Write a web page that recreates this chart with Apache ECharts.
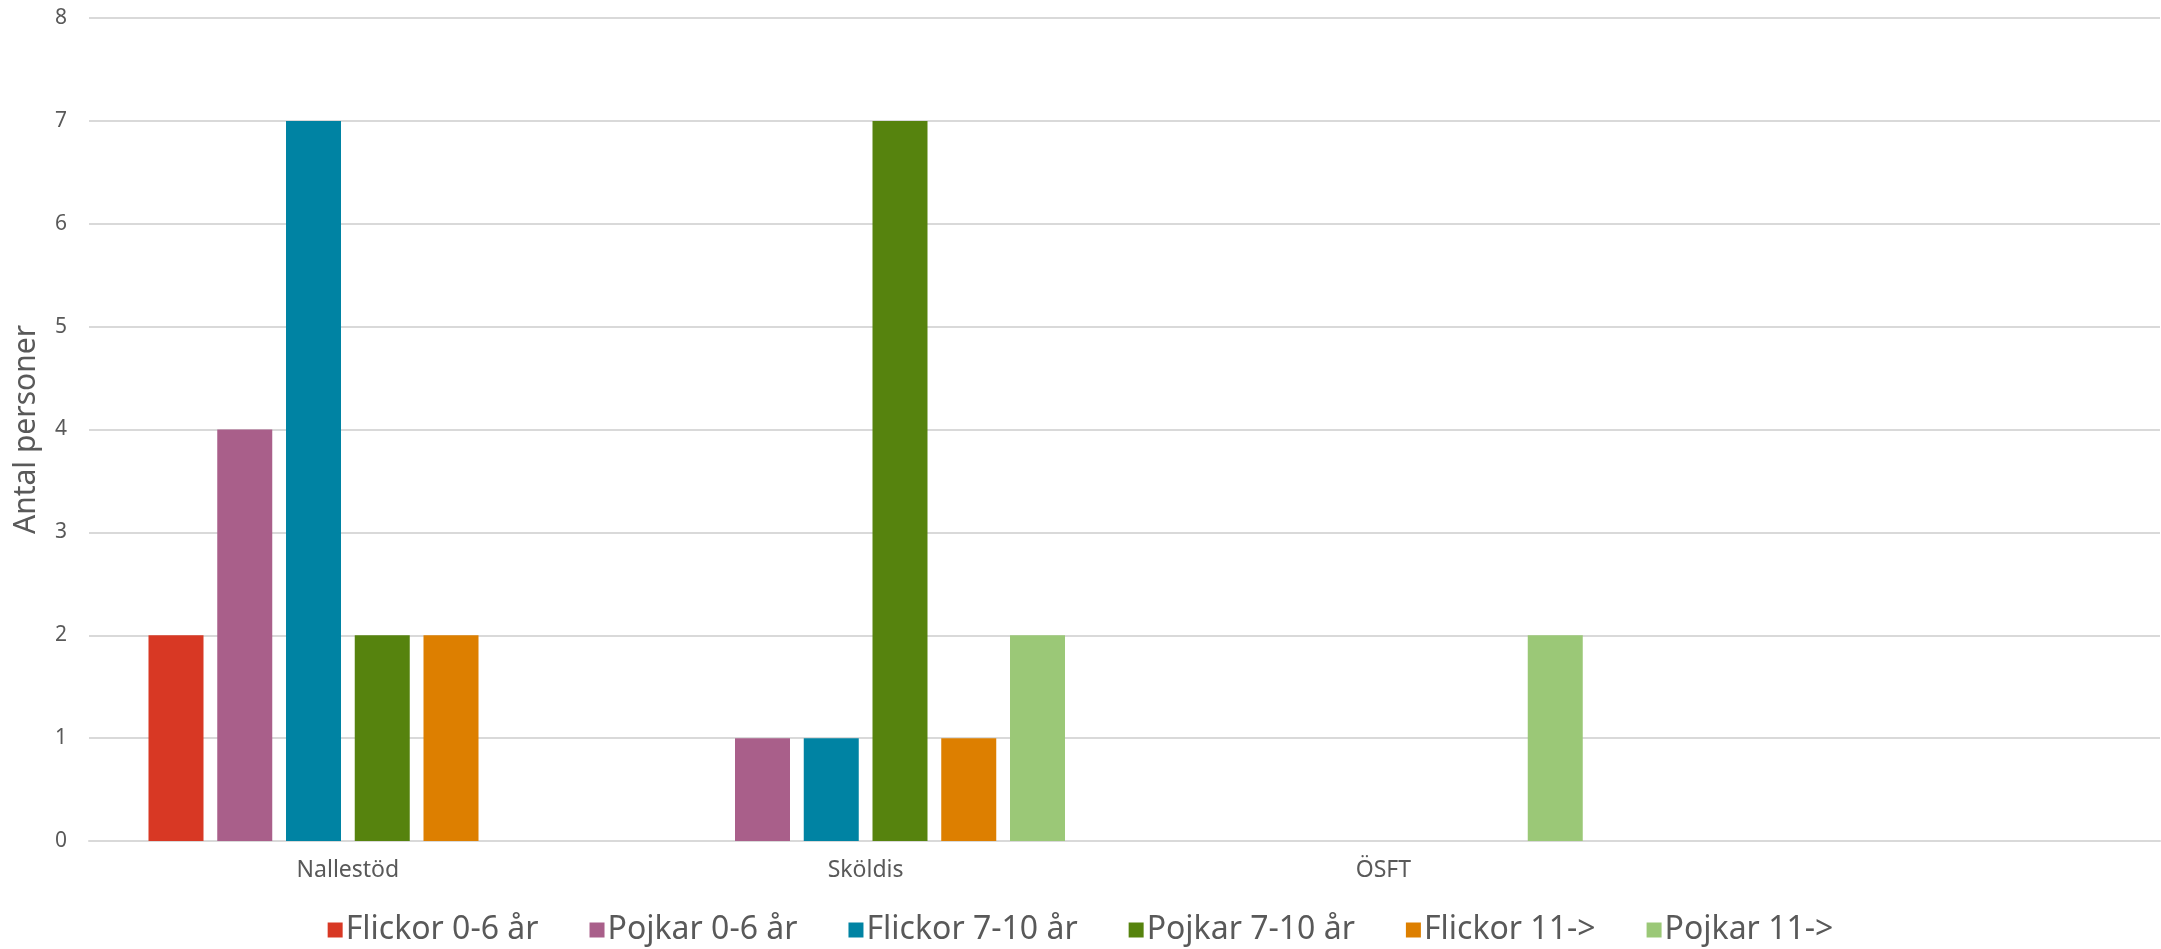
<!DOCTYPE html>
<html><head><meta charset="utf-8">
<script src="https://cdn.jsdelivr.net/npm/echarts@6/dist/echarts.min.js"></script>
<style>html,body{margin:0;padding:0;background:#fff}#c{width:2161px;height:949px}</style>
</head><body><div id="c"></div>
<script>
const categories = ["Nallestöd", "Sköldis", "ÖSFT", ""];
const seriesNames = ["Flickor 0-6 år", "Pojkar 0-6 år", "Flickor 7-10 år", "Pojkar 7-10 år", "Flickor 11->", "Pojkar 11->"];
const flickor06 = [2, 0, 0, 0];
const pojkar06 = [4, 1, 0, 0];
const flickor710 = [7, 1, 0, 0];
const pojkar710 = [2, 7, 0, 0];
const flickor11 = [2, 1, 0, 0];
const pojkar11 = [0, 2, 2, 0];
const yTicks = [0, 1, 2, 3, 4, 5, 6, 7, 8];
const colors = ["#D83824", "#A95F8A", "#0083A3", "#56830E", "#DD7F00", "#9BC877"];
const allData = [flickor06, pojkar06, flickor710, pojkar710, flickor11, pojkar11];

const font = "Noto Sans";
const chart = echarts.init(document.getElementById('c'));
chart.setOption({
  animation: false,
  color: colors,
  grid: { left: 89, right: 1, top: 18, bottom: 108, containLabel: false },
  legend: {
    data: seriesNames,
    top: 909, left: 'center',
    itemWidth: 15, itemHeight: 15, itemGap: 51,
    icon: 'rect',
    textStyle: { fontFamily: font, fontSize: 32, color: '#595959', padding: [0, 0, 0, -2] }
  },
  xAxis: {
    type: 'category', data: categories,
    axisLine: { lineStyle: { color: '#D9D9D9', width: 2 } },
    axisTick: { show: false },
    axisLabel: { fontFamily: font, fontSize: 23, color: '#595959', margin: 18 }
  },
  yAxis: {
    type: 'value', min: yTicks[0], max: yTicks[yTicks.length - 1], interval: 1,
    name: 'Antal personer', nameLocation: 'middle', nameGap: 48,
    nameTextStyle: { fontFamily: font, fontSize: 30, color: '#595959' },
    axisLine: { show: false }, axisTick: { show: false },
    axisLabel: { fontFamily: font, fontSize: 21, color: '#595959', margin: 22 },
    splitLine: { lineStyle: { color: '#D9D9D9', width: 2 } }
  },
  series: seriesNames.map((n, i) => ({
    name: n, type: 'bar', data: allData[i],
    barWidth: 55, barGap: '25%'
  }))
});
</script></body></html>
